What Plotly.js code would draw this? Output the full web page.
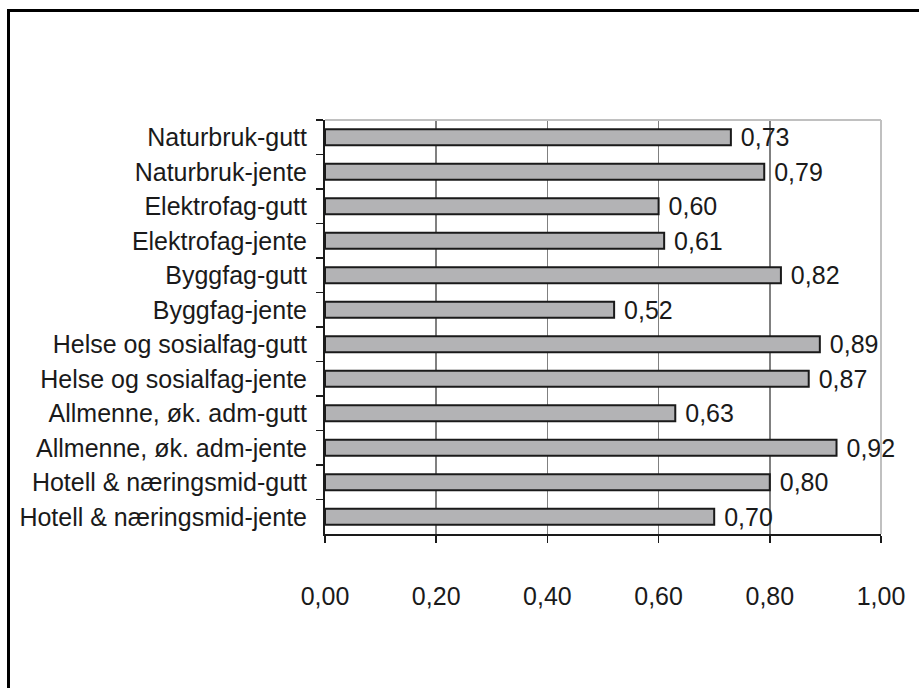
<!DOCTYPE html>
<html>
<head>
<meta charset="utf-8">
<script src="https://cdn.plot.ly/plotly-3.0.1.min.js"></script>
<style>
html,body{margin:0;padding:0;background:#fff;}
#chart{width:919px;height:688px;}
</style>
</head>
<body>
<div id="chart"></div>
<script>
const categories = [
  "Naturbruk-gutt",
  "Naturbruk-jente",
  "Elektrofag-gutt",
  "Elektrofag-jente",
  "Byggfag-gutt",
  "Byggfag-jente",
  "Helse og sosialfag-gutt",
  "Helse og sosialfag-jente",
  "Allmenne, øk. adm-gutt",
  "Allmenne, øk. adm-jente",
  "Hotell & næringsmid-gutt",
  "Hotell & næringsmid-jente"
];
const values = [0.73, 0.79, 0.60, 0.61, 0.82, 0.52, 0.89, 0.87, 0.63, 0.92, 0.80, 0.70];
const xTicks = [0, 0.2, 0.4, 0.6, 0.8, 1.0];

const W = 919, H = 688;
const L = 325, R = 881, T = 120, B = 534;
const pw = R - L, ph = B - T;
function px(x){ return (x - L) / pw; }
function py(y){ return (B - y) / ph; }

const FONT = "Liberation Sans, Arial, sans-serif";
const FS = 25;

const trace = {
  type: "bar",
  orientation: "h",
  y: categories,
  x: values,
  marker: { color: "#b3b3b5", line: { color: "#1a1a1a", width: 2 } },
  texttemplate: " %{x:.2f}",
  textposition: "outside",
  constraintext: "none",
  cliponaxis: false,
  textfont: { family: FONT, size: FS, color: "#1a1a1a" },
  hoverinfo: "none"
};

const layout = {
  width: W, height: H,
  margin: { l: L, r: W - R, t: T, b: H - B, pad: 0 },
  paper_bgcolor: "#ffffff",
  plot_bgcolor: "#ffffff",
  separators: ",.",
  showlegend: false,
  bargap: 0.53,
  font: { family: FONT, size: FS, color: "#1a1a1a" },
  xaxis: {
    range: [0, 1],
    tickvals: xTicks,
    tickformat: ".2f",
    showgrid: true,
    gridcolor: "#808080",
    gridwidth: 1.5,
    zeroline: false,
    showline: true,
    linecolor: "#1a1a1a",
    linewidth: 2,
    ticks: "outside",
    ticklen: 7,
    tickwidth: 1.5,
    tickcolor: "#1a1a1a",
    ticklabelstandoff: 32,
    tickfont: { family: FONT, size: FS, color: "#1a1a1a" },
    fixedrange: true
  },
  yaxis: {
    type: "category",
    categoryorder: "array",
    categoryarray: categories,
    autorange: "reversed",
    showgrid: false,
    zeroline: false,
    showline: true,
    linecolor: "#1a1a1a",
    linewidth: 2,
    ticks: "outside",
    tickson: "boundaries",
    ticklen: 7,
    tickwidth: 1.5,
    tickcolor: "#1a1a1a",
    ticklabelstandoff: 11,
    tickfont: { family: FONT, size: FS, color: "#1a1a1a" },
    fixedrange: true
  },
  shapes: [
    { type: "line", xref: "paper", yref: "paper", x0: 0, x1: 1, y0: 1, y1: 1,
      line: { color: "#c0c0c0", width: 2 }, layer: "above" },
    { type: "line", xref: "paper", yref: "paper", x0: 1, x1: 1, y0: 0, y1: 1,
      line: { color: "#c0c0c0", width: 2 }, layer: "above" },
    { type: "rect", xref: "paper", yref: "paper",
      x0: px(8.5), x1: px(W + 20), y0: py(H + 20), y1: py(10.5),
      line: { color: "#000000", width: 3 }, fillcolor: "rgba(0,0,0,0)", layer: "above" }
  ]
};

Plotly.newPlot("chart", [trace], layout, { displayModeBar: false, staticPlot: true });
</script>
</body>
</html>
